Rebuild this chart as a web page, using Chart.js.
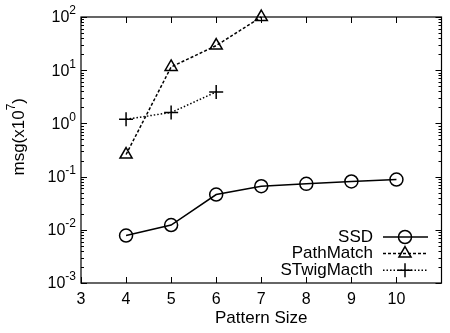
<!DOCTYPE html>
<html>
<head>
<meta charset="utf-8">
<script src="https://cdn.jsdelivr.net/npm/chart.js@4"></script>
<style>
  html, body { margin: 0; padding: 0; background: #fff; }
  #wrap { width: 450px; height: 333px; }
</style>
</head>
<body>
<div id="wrap"><canvas id="myChart" width="450" height="333"></canvas></div>
<script>
// values
const sizes = [4, 5, 6, 7, 8, 9, 10];
const ssd = [0.0078, 0.0123, 0.046, 0.066, 0.073, 0.081, 0.088];
const pathMatch = [0.26, 11.5, 29, 100];
const stwigMacth = [1.2, 1.6, 3.9];
const xTicks = [3, 4, 5, 6, 7, 8, 9, 10];
const yExps = [-3, -2, -1, 0, 1, 2];

const font = "Liberation Sans, Arial, sans-serif";
const toPts = (ys) => ys.map((y, i) => ({ x: sizes[i], y: y }));

const ctx = document.querySelector("#myChart");

// gnuplot-ish frame, inward ticks, labels and legend
const framePlugin = {
  id: "frame",
  afterDraw(chart) {
    const c = chart.ctx;
    const a = chart.chartArea;
    const xs = chart.scales.x;
    const ys = chart.scales.y;
    c.save();
    c.strokeStyle = "#000";
    c.lineWidth = 1.2;
    c.strokeRect(a.left, a.top, a.right - a.left, a.bottom - a.top);

    c.lineWidth = 1;
    c.beginPath();
    xTicks.forEach((t) => {
      const px = Math.round(xs.getPixelForValue(t)) + 0.5;
      c.moveTo(px, a.bottom); c.lineTo(px, a.bottom - 6);
      c.moveTo(px, a.top); c.lineTo(px, a.top + 6);
    });
    yExps.forEach((e) => {
      for (let m = 1; m <= 9; m++) {
        if (e === 2 && m > 1) break;
        const py = Math.round(ys.getPixelForValue(m * Math.pow(10, e))) + 0.5;
        const len = m === 1 ? 6 : 3;
        c.moveTo(a.left, py); c.lineTo(a.left + len, py);
        c.moveTo(a.right, py); c.lineTo(a.right - len, py);
      }
    });
    c.stroke();

    // x tick labels
    c.fillStyle = "#000";
    c.font = "16px " + font;
    c.textAlign = "center";
    c.textBaseline = "middle";
    xTicks.forEach((t) => {
      c.fillText(String(t), xs.getPixelForValue(t), a.bottom + 17);
    });

    // y tick labels 10^n
    yExps.forEach((e) => {
      const py = ys.getPixelForValue(Math.pow(10, e));
      const ex = String(e);
      c.font = "12px " + font;
      const ew = c.measureText(ex).width;
      c.textAlign = "right";
      c.fillText(ex, 76, py - 6);
      c.font = "16px " + font;
      c.fillText("10", 76 - ew, py + 1);
    });

    // axis titles
    c.font = "17px " + font;
    c.textAlign = "center";
    c.fillText("Pattern Size", (a.left + a.right) / 2, 318);
    c.save();
    c.translate(19, 144);
    c.rotate(-Math.PI / 2);
    c.textAlign = "right";
    c.font = "17px " + font;
    c.fillText(")", 46, 0);
    const pw = c.measureText(")").width;
    c.font = "12px " + font;
    c.fillText("7", 46 - pw, -7);
    const sw = c.measureText("7").width;
    c.font = "17px " + font;
    c.fillText("msg(x10", 46 - pw - sw, 0);
    c.restore();

    // legend
    const rows = [
      { label: "SSD", ds: chart.data.datasets[0] },
      { label: "PathMatch", ds: chart.data.datasets[1] },
      { label: "STwigMacth", ds: chart.data.datasets[2] },
    ];
    rows.forEach((r, i) => {
      const y = 237 + i * 16.6;
      c.font = "17px " + font;
      c.textAlign = "right";
      c.fillStyle = "#000";
      c.fillText(r.label, 373, y);
      c.beginPath();
      c.setLineDash(r.ds.borderDash || []);
      c.lineWidth = r.ds.borderWidth;
      c.moveTo(383, y); c.lineTo(428, y);
      c.stroke();
      c.setLineDash([]);
      c.fillStyle = "rgba(0,0,0,0)";
      c.lineWidth = 1.5;
      Chart.helpers.drawPoint(c, {
        pointStyle: r.ds.pointStyle,
        radius: r.ds.pointRadius,
        borderWidth: 1.5,
        rotation: 0,
      }, 405, y);
    });
    c.restore();
  },
};

const commonDs = {
  borderColor: "#000",
  backgroundColor: "rgba(0,0,0,0)",
  pointBorderColor: "#000",
  pointBackgroundColor: "rgba(0,0,0,0)",
  pointBorderWidth: 1.5,
  tension: 0,
  fill: false,
  clip: false,
};

const config = {
  type: "line",
  data: {
    datasets: [
      { ...commonDs, label: "SSD", data: toPts(ssd), borderWidth: 1.5, pointStyle: "circle", pointRadius: 6.5 },
      { ...commonDs, label: "PathMatch", data: toPts(pathMatch), borderWidth: 1.5, borderDash: [3, 2], pointStyle: "triangle", pointRadius: 7 },
      { ...commonDs, label: "STwigMacth", data: toPts(stwigMacth), borderWidth: 1.5, borderDash: [1.5, 2], pointStyle: "cross", pointRadius: 7 },
    ],
  },
  options: {
    responsive: false,
    animation: false,
    layout: { padding: { left: 81, right: 1, top: 17, bottom: 50 } },
    plugins: { legend: { display: false }, tooltip: { enabled: false } },
    scales: {
      x: { type: "linear", min: 3, max: 11, display: false },
      y: { type: "logarithmic", min: 0.001, max: 100, display: false },
    },
  },
  plugins: [framePlugin],
};

new Chart(ctx, config);
</script>
</body>
</html>
